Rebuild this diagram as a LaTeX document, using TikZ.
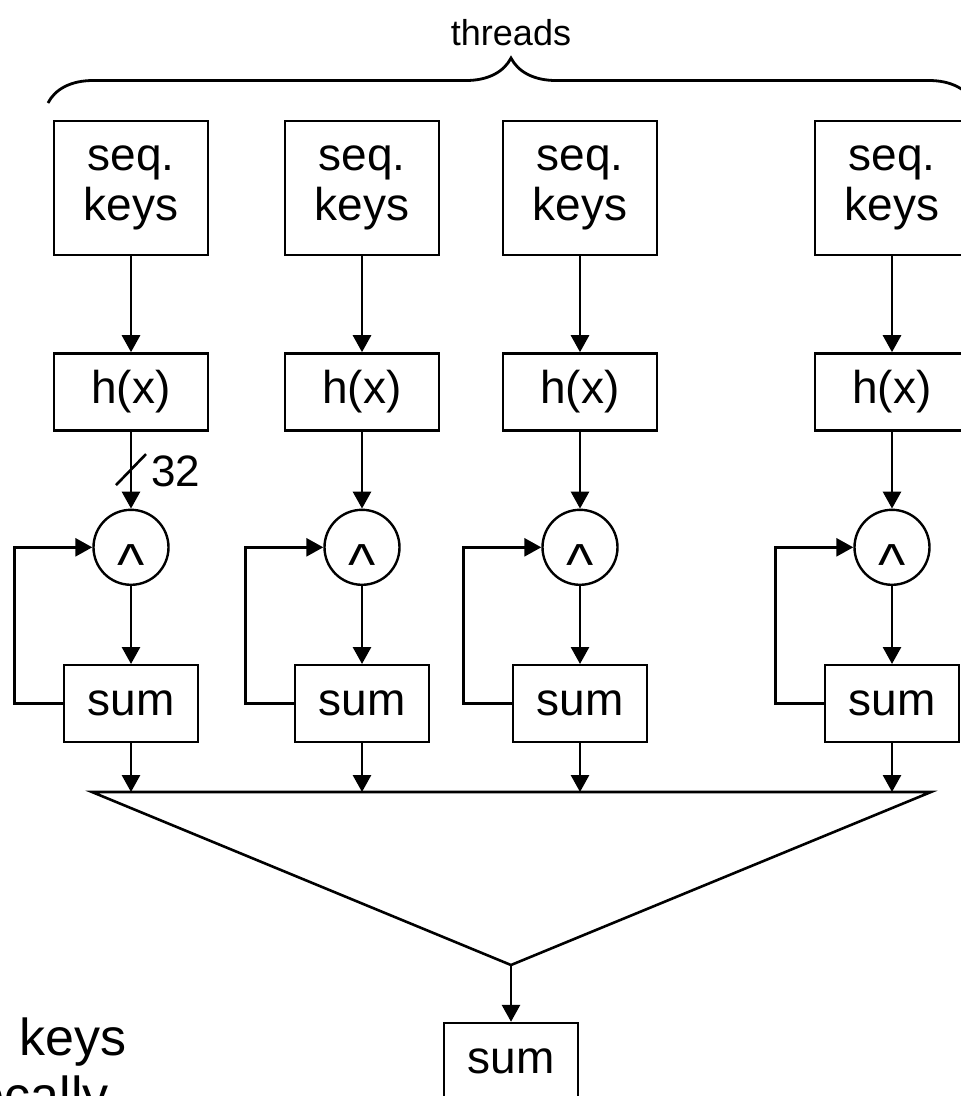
\documentclass[tikz,border=0pt]{standalone}
\usepackage{fontspec}
\setmainfont{Liberation Sans}
\usetikzlibrary{arrows.meta,positioning,calc,decorations.pathreplacing}

\begin{document}
\begin{tikzpicture}[
    x=1pt, y=-1pt,
    line width=2.6pt,
    keybox/.style={
      rectangle, draw=black, line width=2.4pt, align=center, inner sep=0pt,
      font=\fontsize{46pt}{50pt}\selectfont,
      minimum width=154pt, minimum height=134pt
    },
    hashbox/.style={keybox, minimum height=77pt},
    sumbox/.style={keybox, minimum width=134pt, minimum height=77pt},
    xorcirc/.style={
      circle, draw=black, line width=2.4pt, inner sep=0pt, minimum size=75pt,
      font=\fontsize{58pt}{60pt}\selectfont
    },
    flowarr/.style={-{Triangle[length=17pt,width=18pt]}, draw=black, line width=2.8pt},
    bracearr/.style={decorate, decoration={brace, amplitude=45pt}, line width=2.8pt}
  ]
  \useasboundingbox (0,0) rectangle (961,1096);
  \clip (0,0) rectangle (961,1096);

  % brace over the threads
  \coordinate (bl) at (48,103);
  \coordinate (br) at (974,103);
  \draw[bracearr] (bl) -- (br);
  \node[anchor=base, inner sep=0pt, font=\fontsize{36pt}{40pt}\selectfont] (thr) at (511,45) {threads};

  % funnel
  \coordinate (fl) at (92,792);
  \coordinate (fr) at (931,792);
  \coordinate (fa) at (511,965);
  \draw (fl) -- (fr) -- (fa) -- cycle;

  % one column per thread
  \foreach \i/\x in {1/131, 2/362, 3/580, 4/892} {
    \node[keybox] (k\i) at (\x,188) {seq.\\keys};
    \node[hashbox, below=96pt of k\i] (h\i) {h(x)};
    \node[xorcirc, below=77pt of h\i] (x\i) {\raisebox{-0.64em}[0pt][0pt]{\textasciicircum}};
    \node[sumbox, below=78pt of x\i] (s\i) {sum};

    \draw[flowarr] (k\i) -- (h\i);
    \draw[flowarr] (h\i) -- (x\i);
    \draw[flowarr] (x\i) -- (s\i);
    \draw[flowarr] (s\i.west) -- ++(-48,0) |- (x\i.west);
    \draw[flowarr] (s\i) -- (s\i |- fl);
  }

  % bus width
  \draw ($(h1.south)!0.5!(x1.north)+(-15,15)$) -- ++(30,-31);
  \node[anchor=west, inner sep=0pt, font=\fontsize{44pt}{48pt}\selectfont] (bw) at (150,471) {32};

  \node[sumbox] (total) at (511,1061.5) {sum};
  \draw[flowarr] (fa) -- (total);

  \node[anchor=base west, inner sep=0pt, font=\fontsize{52pt}{58pt}\selectfont] (note1) at (18,1055) {keys};
  \node[anchor=base east, inner sep=0pt, font=\fontsize{52pt}{58pt}\selectfont] (note2) at (110,1113) {locally};
\end{tikzpicture}
\end{document}
